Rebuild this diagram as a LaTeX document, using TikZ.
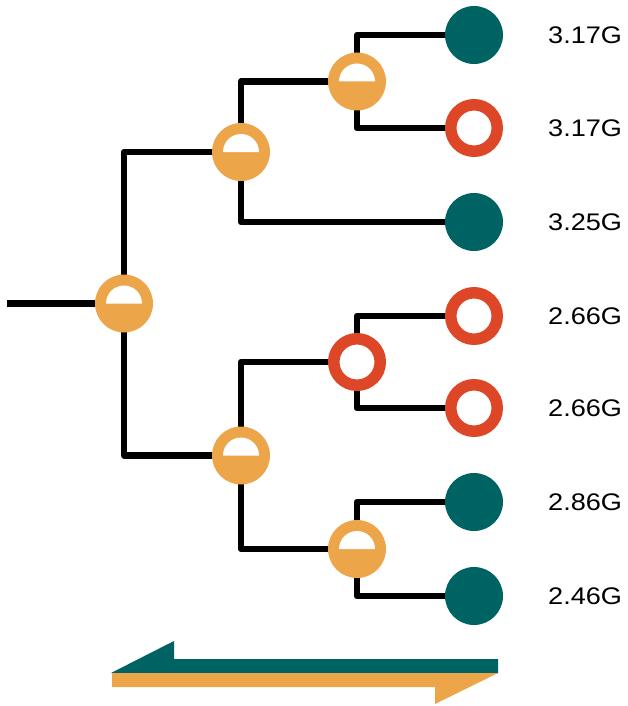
\documentclass[tikz,border=0pt]{standalone}
\usepackage{fontspec}
\setmainfont{Liberation Sans}
\usetikzlibrary{backgrounds}
\definecolor{teal}{RGB}{0,99,99}
\definecolor{amber}{RGB}{237,165,74}
\definecolor{rust}{RGB}{221,70,38}
\tikzset{
  full/.style={circle, fill=teal, minimum size=58pt, inner sep=0pt},
  ring/.style={circle, draw=rust, fill=white, line width=11.5pt, minimum size=46.5pt, inner sep=0pt},
  half/.style={circle, fill=amber, minimum size=58pt, inner sep=0pt,
    path picture={\fill[white] ([xshift=-18pt]path picture bounding box.center)
      arc[start angle=180, end angle=0, radius=18pt] -- cycle;}},
  branch/.style={draw=black, line width=6.5pt, line join=round},
  size/.style={anchor=west, inner sep=0pt, font=\fontsize{24}{28}\selectfont},
}
\newcommand{\sizetext}[1]{\scalebox{1.13}[1]{#1}}
\begin{document}
\begin{tikzpicture}[x=1pt, y=1pt]
\useasboundingbox (0,0) rectangle (627,-706);

% internal nodes
\node[half] (root) at (124,-303.5) {};
\node[half] (ua) at (241,-152) {};
\node[half] (la) at (241,-455.5) {};
\node[half] (uaa) at (357,-81.5) {};
\node[ring] (lab) at (357,-362) {};
\node[half] (lac) at (357,-549) {};

% leaves
\node[full] (l1) at (474,-35) {};
\node[ring] (l2) at (474,-128) {};
\node[full] (l3) at (474,-222) {};
\node[ring] (l4) at (474,-316) {};
\node[ring] (l5) at (474,-408) {};
\node[full] (l6) at (474,-502) {};
\node[full] (l7) at (474,-596) {};

% sizes
\node[size] (t1) at (548,-35) {\sizetext{3.17G}};
\node[size] (t2) at (548,-128) {\sizetext{3.17G}};
\node[size] (t3) at (548,-222) {\sizetext{3.25G}};
\node[size] (t4) at (548,-316) {\sizetext{2.66G}};
\node[size] (t5) at (548,-408) {\sizetext{2.66G}};
\node[size] (t6) at (548,-502) {\sizetext{2.86G}};
\node[size] (t7) at (548,-596) {\sizetext{2.46G}};

\coordinate (stem) at (7,-303.5);

% branches behind the nodes
\begin{pgfonlayer}{background}
\draw[branch] (stem) -- (root.center);
\draw[branch] (ua.center) -| (root.center) |- (la.center);
\draw[branch] (uaa.center) -| (ua.center) |- (l3.center);
\draw[branch] (lab.center) -| (la.center) |- (lac.center);
\draw[branch] (l1.center) -| (uaa.center) |- (l2.center);
\draw[branch] (l4.center) -| (lab.center) |- (l5.center);
\draw[branch] (l6.center) -| (lac.center) |- (l7.center);
\end{pgfonlayer}

% two-way arrow
\fill[teal] (111,-673) -- (174,-641) -- (174,-659) -- (498,-659) -- (498,-673) -- cycle;
\fill[amber] (112,-673) -- (498,-673) -- (435,-704) -- (435,-687) -- (112,-687) -- cycle;
\end{tikzpicture}
\end{document}
